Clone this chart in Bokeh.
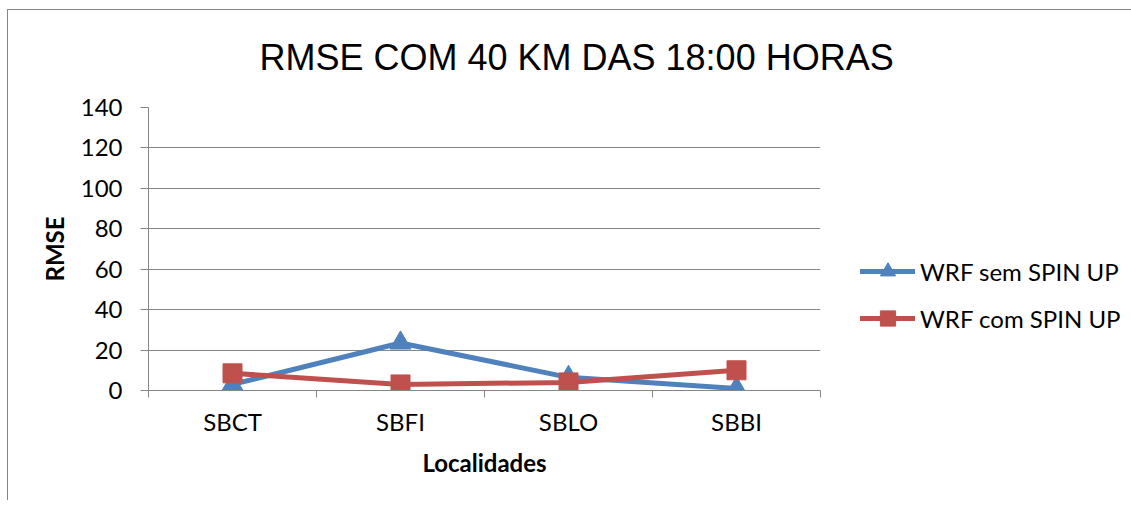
from bokeh.plotting import figure
from bokeh.models import FixedTicker, Legend, LegendItem, Range1d, Title
from bokeh.embed import file_html
from bokeh.resources import INLINE

# ---- data ----
categories = ["SBCT", "SBFI", "SBLO", "SBBI"]
wrf_sem_spin_up = [3.0, 23.5, 6.5, 1.0]
wrf_com_spin_up = [8.5, 3.0, 4.0, 10.0]
series_names = ["WRF sem SPIN UP", "WRF com SPIN UP"]
y_ticks = [0, 20, 40, 60, 80, 100, 120, 140]
title_text = "RMSE COM 40 KM DAS 18:00 HORAS"
x_title = "Localidades"
y_title = "RMSE"

BLUE = "#4F81BD"
RED = "#C0504D"
GRID = "#868686"
FONT = "Lato"

xs = [i + 0.5 for i in range(len(categories))]

p = figure(
    frame_width=672, frame_height=283,
    output_backend="svg", toolbar_location=None,
    x_range=Range1d(0, len(categories)), y_range=Range1d(0, 140),
    min_border_left=140, min_border_right=303,
    min_border_top=97, min_border_bottom=110,
    styles={"border-top": "1px solid #868686", "border-left": "1px solid #868686",
            "margin-left": "7px", "margin-top": "9px"},
)
p.outline_line_color = None
p.background_fill_color = "white"
p.border_fill_color = "white"

# spacer between frame and title, then the title itself
spacer = Title(text=" ", text_font_size="20px", standoff=4, text_color="white")
p.add_layout(spacer, "above")
main_title = Title(text=title_text, text_font="Liberation Sans", text_font_size="36px",
                   text_font_style="normal", text_color="black",
                   align="left", offset=111, standoff=4)
p.add_layout(main_title, "above")

# x axis
xa = p.xaxis[0]
xa.ticker = FixedTicker(ticks=xs, minor_ticks=list(range(len(categories) + 1)))
xa.major_label_overrides = {x: c for x, c in zip(xs, categories)}
xa.major_tick_out = 0
xa.major_tick_in = 0
xa.minor_tick_out = 7
xa.minor_tick_in = 0
xa.minor_tick_line_color = GRID
xa.axis_line_color = GRID
xa.major_label_text_font = FONT
xa.major_label_text_font_size = "24px"
xa.major_label_text_color = "black"
xa.major_label_standoff = 9
xa.axis_label = x_title
xa.axis_label_text_font = FONT
xa.axis_label_text_font_size = "24px"
xa.axis_label_text_font_style = "bold"
xa.axis_label_text_color = "black"
xa.axis_label_standoff = 9

# y axis
ya = p.yaxis[0]
ya.ticker = FixedTicker(ticks=y_ticks)
ya.major_tick_out = 8
ya.major_tick_in = 0
ya.minor_tick_out = 0
ya.minor_tick_in = 0
ya.major_tick_line_color = GRID
ya.axis_line_color = GRID
ya.major_label_text_font = FONT
ya.major_label_text_font_size = "24px"
ya.major_label_text_color = "black"
ya.major_label_standoff = 18
ya.axis_label = y_title
ya.axis_label_text_font = FONT
ya.axis_label_text_font_size = "24px"
ya.axis_label_text_font_style = "bold"
ya.axis_label_text_color = "black"
ya.axis_label_standoff = 9

p.xgrid.visible = False
p.ygrid.ticker = FixedTicker(ticks=y_ticks)
p.ygrid.grid_line_color = GRID
p.ygrid.grid_line_width = 1

# series
l1 = p.line(xs, wrf_sem_spin_up, line_color=BLUE, line_width=5, line_join="round", line_cap="round")
s1 = p.scatter(xs, wrf_sem_spin_up, marker="triangle", size=21, fill_color=BLUE, line_color=BLUE)
l2 = p.line(xs, wrf_com_spin_up, line_color=RED, line_width=5, line_join="round", line_cap="round")
s2 = p.scatter(xs, wrf_com_spin_up, marker="square", size=19, fill_color=RED, line_color=RED)

legend = Legend(
    items=[LegendItem(label=series_names[0], renderers=[l1, s1]),
           LegendItem(label=series_names[1], renderers=[l2, s2])],
    location=(40, 53),
    border_line_color=None, background_fill_alpha=0,
    padding=0, margin=0, spacing=9,
    glyph_width=55, glyph_height=38, label_height=38,
    label_standoff=5,
    label_text_font=FONT, label_text_font_size="24px", label_text_color="black",
)
p.add_layout(legend, "right")

open("out.html", "w").write(file_html(p, INLINE))
